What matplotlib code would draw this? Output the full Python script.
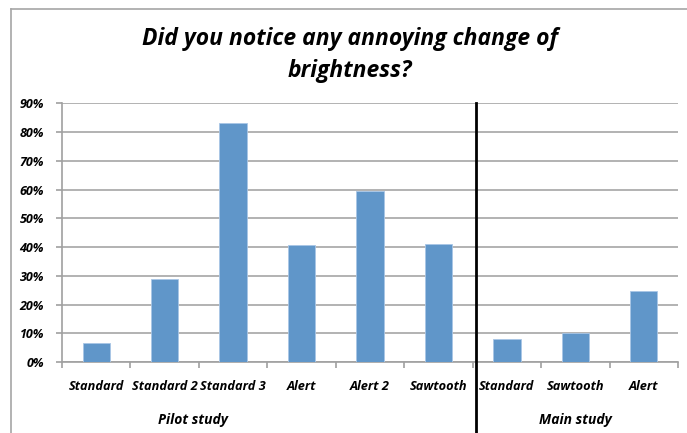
import matplotlib
matplotlib.use("Agg")
import matplotlib.pyplot as plt
from matplotlib.lines import Line2D
from matplotlib.ticker import FixedLocator, PercentFormatter
import matplotlib.transforms as mtransforms

plt.rcParams['font.family'] = ['Open Sans', 'DejaVu Sans']

categories = ["Standard", "Standard 2", "Standard 3", "Alert", "Alert 2", "Sawtooth",
              "Standard", "Sawtooth", "Alert"]
values = [6.5, 28.9, 83.0, 40.6, 59.4, 41.2, 8.1, 10.0, 24.7]
groups = ["Pilot study", "Main study"]
group_sizes = [6, 3]
title = "Did you notice any annoying change of\nbrightness?"

W, H = 687, 433
fig = plt.figure(figsize=(W / 100, H / 100), dpi=100)
ax = fig.add_axes([62 / W, 1 - 362 / H, (678 - 62) / W, (362 - 103.3) / H])

WEIGHT = "bold"
x = list(range(len(categories)))
ax.bar(x, values, width=0.4, color="#6096c9", edgecolor="#a9c6e6", linewidth=0.6, zorder=3)

ax.set_xlim(-0.5, len(categories) - 0.5)
ax.set_ylim(0, 90)
ax.yaxis.set_major_locator(FixedLocator(range(0, 91, 10)))
ax.yaxis.set_major_formatter(PercentFormatter(decimals=0))
ax.grid(axis="y", color="#a6a6a6", linewidth=1.2, zorder=0)
for s in ["top", "right"]:
    ax.spines[s].set_visible(False)
for s in ["left", "bottom"]:
    ax.spines[s].set_color("#a0a0a0")
    ax.spines[s].set_linewidth(1.2)

ax.set_xticks(x)
ax.set_xticklabels(categories, fontsize=9.2, fontweight=WEIGHT, fontstyle="italic")
ax.tick_params(axis="x", which="major", length=0, pad=13)
ax.set_xticks([i - 0.5 for i in range(len(categories) + 1)], minor=True)
ax.tick_params(axis="x", which="minor", length=4, color="#a0a0a0", width=1.2)
ax.tick_params(axis="y", length=4, color="#a0a0a0", width=1.2, pad=9)
for lab in ax.get_yticklabels():
    lab.set_fontsize(9)
    lab.set_fontweight(WEIGHT)
    lab.set_fontstyle("italic")

# separator between groups
boundary = group_sizes[0] - 0.5 + 0.045
ax.plot([boundary, boundary], [1, -0.28], color="black", linewidth=2, clip_on=False, zorder=5,
        transform=mtransforms.blended_transform_factory(ax.transData, ax.transAxes))

# group labels
fig.text(193 / W, 1 - 420 / H, groups[0], ha="center", va="center", fontsize=10,
         fontweight=WEIGHT, fontstyle="italic")
fig.text(575 / W, 1 - 420 / H, groups[1], ha="center", va="center", fontsize=10,
         fontweight=WEIGHT, fontstyle="italic")

fig.text(350 / W, 1 - 55 / H, title, ha="center", va="center", fontsize=16.5,
         fontweight=WEIGHT, fontstyle="italic", linespacing=1.45)

# outer frame (top and left edges)
fig.add_artist(Line2D([10.5 / W, 1.0], [1 - 8.5 / H, 1 - 8.5 / H], color="#a6a6a6", linewidth=1.2))
fig.add_artist(Line2D([10.5 / W, 10.5 / W], [0, 1 - 8.5 / H], color="#a6a6a6", linewidth=1.2))

fig.savefig("out.png", dpi=100)
